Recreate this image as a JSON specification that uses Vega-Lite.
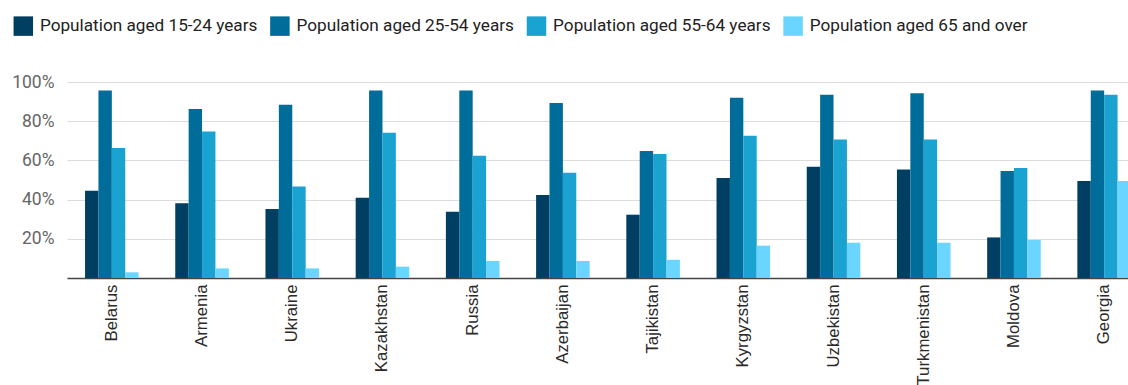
{
  "$schema": "https://vega.github.io/schema/vega-lite/v6.json",
  "autosize": "none",
  "padding": {"left": 67, "top": 82, "right": 0, "bottom": 107},
  "width": 1082,
  "height": 196,
  "config": {"view": {"stroke": null}, "font": "Roboto"},
  "data": {
    "values": [
      {"country": "Belarus", "group": "Population aged 15-24 years", "share": 44.5},
      {"country": "Belarus", "group": "Population aged 25-54 years", "share": 95.6},
      {"country": "Belarus", "group": "Population aged 55-64 years", "share": 66.3},
      {"country": "Belarus", "group": "Population aged 65 and over", "share": 2.9},
      {"country": "Armenia", "group": "Population aged 15-24 years", "share": 38.1},
      {"country": "Armenia", "group": "Population aged 25-54 years", "share": 86.2},
      {"country": "Armenia", "group": "Population aged 55-64 years", "share": 74.8},
      {"country": "Armenia", "group": "Population aged 65 and over", "share": 4.9},
      {"country": "Ukraine", "group": "Population aged 15-24 years", "share": 35.2},
      {"country": "Ukraine", "group": "Population aged 25-54 years", "share": 88.4},
      {"country": "Ukraine", "group": "Population aged 55-64 years", "share": 46.7},
      {"country": "Ukraine", "group": "Population aged 65 and over", "share": 4.9},
      {"country": "Kazakhstan", "group": "Population aged 15-24 years", "share": 41.0},
      {"country": "Kazakhstan", "group": "Population aged 25-54 years", "share": 95.6},
      {"country": "Kazakhstan", "group": "Population aged 55-64 years", "share": 74.1},
      {"country": "Kazakhstan", "group": "Population aged 65 and over", "share": 5.8},
      {"country": "Russia", "group": "Population aged 15-24 years", "share": 33.8},
      {"country": "Russia", "group": "Population aged 25-54 years", "share": 95.6},
      {"country": "Russia", "group": "Population aged 55-64 years", "share": 62.4},
      {"country": "Russia", "group": "Population aged 65 and over", "share": 8.7},
      {"country": "Azerbaijan", "group": "Population aged 15-24 years", "share": 42.3},
      {"country": "Azerbaijan", "group": "Population aged 25-54 years", "share": 89.3},
      {"country": "Azerbaijan", "group": "Population aged 55-64 years", "share": 53.7},
      {"country": "Azerbaijan", "group": "Population aged 65 and over", "share": 8.7},
      {"country": "Tajikistan", "group": "Population aged 15-24 years", "share": 32.3},
      {"country": "Tajikistan", "group": "Population aged 25-54 years", "share": 64.8},
      {"country": "Tajikistan", "group": "Population aged 55-64 years", "share": 63.3},
      {"country": "Tajikistan", "group": "Population aged 65 and over", "share": 9.3},
      {"country": "Kyrgyzstan", "group": "Population aged 15-24 years", "share": 51.0},
      {"country": "Kyrgyzstan", "group": "Population aged 25-54 years", "share": 92.0},
      {"country": "Kyrgyzstan", "group": "Population aged 55-64 years", "share": 72.6},
      {"country": "Kyrgyzstan", "group": "Population aged 65 and over", "share": 16.5},
      {"country": "Uzbekistan", "group": "Population aged 15-24 years", "share": 56.8},
      {"country": "Uzbekistan", "group": "Population aged 25-54 years", "share": 93.5},
      {"country": "Uzbekistan", "group": "Population aged 55-64 years", "share": 70.6},
      {"country": "Uzbekistan", "group": "Population aged 65 and over", "share": 18.0},
      {"country": "Turkmenistan", "group": "Population aged 15-24 years", "share": 55.4},
      {"country": "Turkmenistan", "group": "Population aged 25-54 years", "share": 94.2},
      {"country": "Turkmenistan", "group": "Population aged 55-64 years", "share": 70.6},
      {"country": "Turkmenistan", "group": "Population aged 65 and over", "share": 18.0},
      {"country": "Moldova", "group": "Population aged 15-24 years", "share": 20.7},
      {"country": "Moldova", "group": "Population aged 25-54 years", "share": 54.6},
      {"country": "Moldova", "group": "Population aged 55-64 years", "share": 56.1},
      {"country": "Moldova", "group": "Population aged 65 and over", "share": 19.4},
      {"country": "Georgia", "group": "Population aged 15-24 years", "share": 49.5},
      {"country": "Georgia", "group": "Population aged 25-54 years", "share": 95.6},
      {"country": "Georgia", "group": "Population aged 55-64 years", "share": 93.5},
      {"country": "Georgia", "group": "Population aged 65 and over", "share": 49.5}
    ]
  },
  "mark": {"type": "bar"},
  "encoding": {
    "x": {
      "field": "country",
      "type": "nominal",
      "sort": null,
      "scale": {"paddingInner": 0.406, "paddingOuter": 0.2},
      "axis": {
        "title": null,
        "labelAngle": -90,
        "labelPadding": 6,
        "ticks": false,
        "domainColor": "#444",
        "domainWidth": 1.5,
        "labelFont": "Liberation Sans",
        "labelFontSize": 16.8,
        "labelColor": "#2a2a2a",
        "labelOverlap": false,
        "labelLimit": 0
      }
    },
    "xOffset": {
      "field": "group",
      "type": "nominal",
      "sort": ["Population aged 15-24 years", "Population aged 25-54 years", "Population aged 55-64 years", "Population aged 65 and over"],
      "scale": {"paddingInner": 0, "paddingOuter": 0}
    },
    "y": {
      "field": "share",
      "type": "quantitative",
      "scale": {"domain": [0, 100], "nice": false},
      "axis": {
        "title": null,
        "values": [0, 20, 40, 60, 80, 100],
        "labelExpr": "datum.value == 0 ? '' : datum.value + '%'",
        "ticks": false,
        "domain": false,
        "labelPadding": 13,
        "labelFontSize": 17.5,
        "labelColor": "#666",
        "gridColor": "#dcdcdc",
        "gridWidth": 1.2
      }
    },
    "color": {
      "field": "group",
      "type": "nominal",
      "scale": {
        "domain": ["Population aged 15-24 years", "Population aged 25-54 years", "Population aged 55-64 years", "Population aged 65 and over"],
        "range": ["#003f62", "#006c99", "#1aa2d0", "#6ad6ff"]
      },
      "legend": {
        "orient": "none",
        "legendX": -53.7,
        "legendY": -66,
        "direction": "horizontal",
        "columns": 4,
        "title": null,
        "symbolType": "square",
        "symbolSize": 380,
        "symbolStrokeWidth": 0,
        "labelFont": "Roboto",
        "labelFontSize": 17.2,
        "labelColor": "#222",
        "labelOffset": 6.6,
        "labelLimit": 0,
        "columnPadding": 11.6
      }
    }
  }
}
